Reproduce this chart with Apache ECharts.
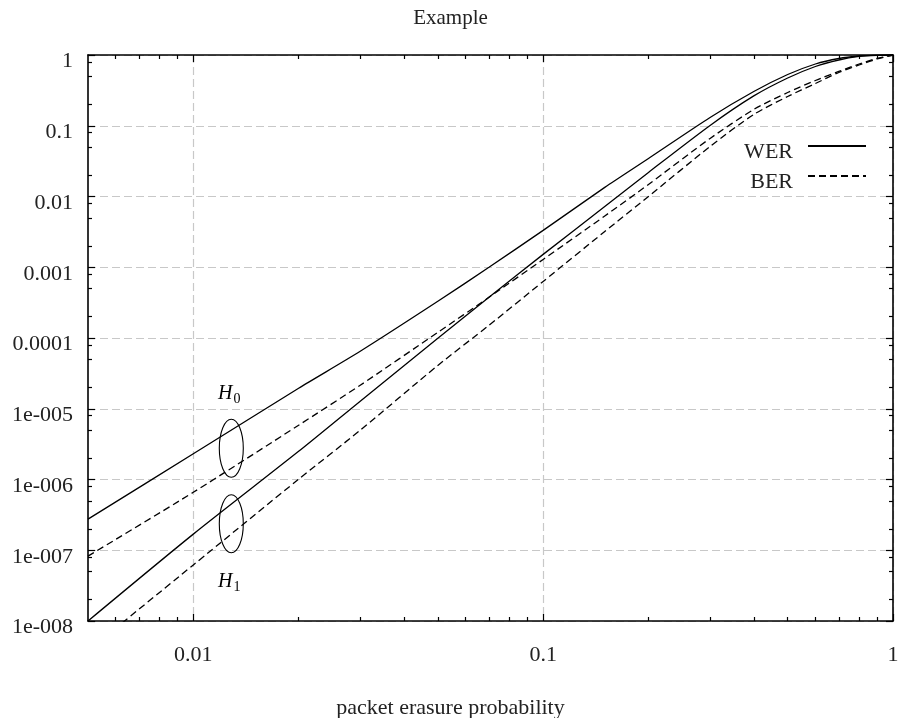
<!DOCTYPE html>
<html>
<head>
<meta charset="utf-8">
<script src="https://cdn.jsdelivr.net/npm/echarts@6/dist/echarts.min.js"></script>
<style>
html, body { margin: 0; padding: 0; background: #fff; }
#chart { width: 901px; height: 718px; }
</style>
</head>
<body>
<div id="chart"></div>
<script>
// packet erasure probability at which each curve is sampled
const probability = [0.005, 0.01, 0.02, 0.03, 0.05, 0.07, 0.1, 0.15, 0.2, 0.3, 0.4, 0.5, 0.6, 0.7, 0.8, 0.9, 1.0];

// word error rate, hypothesis H0 and H1
const werH0 = [2.75e-7, 2.31e-6, 1.95e-5, 6.49e-5, 3.3e-4, 9.98e-4, 3.32e-3, 0.01345, 0.0345, 0.131, 0.305, 0.53, 0.746, 0.892, 0.968, 0.993, 1];
const werH1 = [1.0e-8, 1.69e-7, 2.5e-6, 1.28e-5, 9.9e-5, 3.76e-4, 1.52e-3, 7.2e-3, 0.0219, 0.101, 0.264, 0.473, 0.688, 0.85, 0.953, 0.99, 1];

// bit error rate, hypothesis H0 and H1
const berH0 = [8.26e-8, 6.6e-7, 5.85e-6, 2.15e-5, 1.2e-4, 3.76e-4, 1.29e-3, 5.3e-3, 0.0148, 0.0662, 0.17, 0.295, 0.436, 0.585, 0.746, 0.893, 1];
const berH1 = [3.8e-9, 6.2e-8, 1.01e-6, 4.97e-6, 4.1e-5, 1.51e-4, 6.3e-4, 3.2e-3, 0.01, 0.051, 0.1445, 0.259, 0.396, 0.566, 0.722, 0.878, 1];

// axis ticks and their labels
const xMajorTicks = [0.01, 0.1, 1];
const xTickLabels = ['0.01', '0.1', '1'];
const xMinorTicks = [0.006, 0.007, 0.008, 0.009,
  0.02, 0.03, 0.04, 0.05, 0.06, 0.07, 0.08, 0.09,
  0.2, 0.3, 0.4, 0.5, 0.6, 0.7, 0.8, 0.9];
const yMajorTicks = [1e-8, 1e-7, 1e-6, 1e-5, 1e-4, 1e-3, 1e-2, 1e-1, 1];
const yTickLabels = ['1e-008', '1e-007', '1e-006', '1e-005', '0.0001', '0.001', '0.01', '0.1', '1'];
const yMinorMultipliers = [2, 5, 8];

// annotation ellipses grouping the H0 and H1 curve pairs
const groupCenters = { H0: [0.01284, 2.76e-6], H1: [0.01284, 2.37e-7] };

const FONT = '"Liberation Serif", "DejaVu Serif", serif';
const TEXT = '#222';

const yMinorTicks = [];
for (let k = -8; k < 0; k++) {
  for (const m of yMinorMultipliers) yMinorTicks.push(m * Math.pow(10, k));
}

function labelFor(ticks, labels, wrap) {
  return function (v) {
    for (let i = 0; i < ticks.length; i++) {
      if (Math.abs(Math.log10(v) - Math.log10(ticks[i])) < 1e-6) {
        return wrap ? '{v|' + labels[i] + '}' : labels[i];
      }
    }
    return '';
  };
}

function pairs(ys) {
  return probability.map((p, i) => [p, ys[i]]);
}

const frame = { show: true, onZero: false, lineStyle: { color: '#000', width: 1.6 } };
const tickLine = { color: '#000', width: 1.2 };

function xAxisDef(position, major, withLabels) {
  return {
    type: 'log', logBase: 10, min: 0.005, max: 1, position: position,
    axisLine: major ? frame : { show: false },
    axisTick: { show: true, inside: true, length: major ? 7 : 4,
      customValues: major ? xMajorTicks : xMinorTicks, lineStyle: tickLine },
    axisLabel: withLabels ? {
      show: true, customValues: xMajorTicks, formatter: labelFor(xMajorTicks, xTickLabels, false),
      margin: 23, fontFamily: FONT, fontSize: 22, color: TEXT
    } : { show: false },
    splitLine: withLabels ? { show: true, lineStyle: { color: '#c8c8c8', width: 1.2, type: [8, 4] } } : { show: false },
    minorTick: { show: false }, minorSplitLine: { show: false }
  };
}

function yAxisDef(position, major, withLabels) {
  return {
    type: 'log', logBase: 10, min: 1e-8, max: 1, position: position,
    axisLine: major ? frame : { show: false },
    axisTick: { show: true, inside: true, length: major ? 7 : 4,
      customValues: major ? yMajorTicks : yMinorTicks, lineStyle: tickLine },
    axisLabel: withLabels ? {
      show: true, customValues: yMajorTicks, formatter: labelFor(yMajorTicks, yTickLabels, true),
      margin: 15, fontFamily: FONT, fontSize: 22, color: TEXT,
      rich: { v: { fontFamily: FONT, fontSize: 22, color: TEXT, lineHeight: 18, padding: [13, 0, 0, 0] } }
    } : { show: false },
    splitLine: withLabels ? { show: true, lineStyle: { color: '#c8c8c8', width: 1.2, type: [8, 4] } } : { show: false },
    minorTick: { show: false }, minorSplitLine: { show: false }
  };
}

function curve(name, ys, dashed) {
  return {
    name: name, type: 'line', xAxisIndex: 0, yAxisIndex: 0,
    data: pairs(ys), symbol: 'none', smooth: 0.25,
    clip: true, z: 3,
    lineStyle: { color: '#000', width: 1.3, type: dashed ? [7, 4] : 'solid' },
    itemStyle: { color: '#000' }
  };
}

const chart = echarts.init(document.getElementById('chart'), null, { renderer: 'canvas' });

chart.setOption({
  animation: false,
  backgroundColor: '#fff',
  title: [
    { text: 'Example', left: 'center', top: 3,
      textStyle: { fontFamily: FONT, fontSize: 21, fontWeight: 'normal', color: TEXT } },
    { text: 'packet erasure probability', left: 'center', top: 692,
      textStyle: { fontFamily: FONT, fontSize: 22, fontWeight: 'normal', color: TEXT } }
  ],
  grid: { left: 88, right: 8, top: 55, bottom: 97, containLabel: false, outerBoundsMode: 'none' },
  legend: {
    data: ['WER', 'BER'], orient: 'vertical', right: 29, top: 124, align: 'right',
    itemWidth: 58, itemHeight: 14, itemGap: -4,
    itemStyle: { opacity: 0 },
    formatter: name => '{t|' + name + '}',
    textStyle: {
      fontFamily: FONT, fontSize: 22, color: TEXT,
      rich: { t: { fontFamily: FONT, fontSize: 22, color: TEXT, lineHeight: 18, padding: [12, 10, 0, 0] } }
    },
    selectedMode: false
  },
  xAxis: [
    xAxisDef('bottom', true, true),
    xAxisDef('bottom', false, false),
    xAxisDef('top', true, false),
    xAxisDef('top', false, false)
  ],
  yAxis: [
    yAxisDef('left', true, true),
    yAxisDef('left', false, false),
    yAxisDef('right', true, false),
    yAxisDef('right', false, false)
  ],
  series: [
    curve('WER', werH0, false),
    curve('WER', werH1, false),
    curve('BER', berH0, true),
    curve('BER', berH1, true)
  ]
});

// hypothesis markers: ellipse around each curve pair plus its label
function groupMarks() {
  const c0 = chart.convertToPixel({ xAxisIndex: 0, yAxisIndex: 0 }, groupCenters.H0);
  const c1 = chart.convertToPixel({ xAxisIndex: 0, yAxisIndex: 0 }, groupCenters.H1);
  const ring = { fill: 'none', stroke: '#000', lineWidth: 1.1 };
  const rich = {
    h: { fontFamily: FONT, fontStyle: 'italic', fontSize: 20, color: TEXT },
    s: { fontFamily: FONT, fontSize: 14, color: TEXT, padding: [12, 0, 0, 1] }
  };
  chart.setOption({
    graphic: [
      { type: 'ellipse', shape: { cx: c0[0], cy: c0[1], rx: 12, ry: 29 }, style: ring, z: 10 },
      { type: 'ellipse', shape: { cx: c1[0], cy: c1[1], rx: 12, ry: 29 }, style: ring, z: 10 },
      { type: 'text', x: c0[0] - 2, y: c0[1] - 55, z: 10,
        style: { text: '{h|H}{s|0}', rich: rich, align: 'center', verticalAlign: 'middle' } },
      { type: 'text', x: c1[0] - 2, y: c1[1] + 58, z: 10,
        style: { text: '{h|H}{s|1}', rich: rich, align: 'center', verticalAlign: 'middle' } }
    ]
  });
}
groupMarks();
</script>
</body>
</html>
